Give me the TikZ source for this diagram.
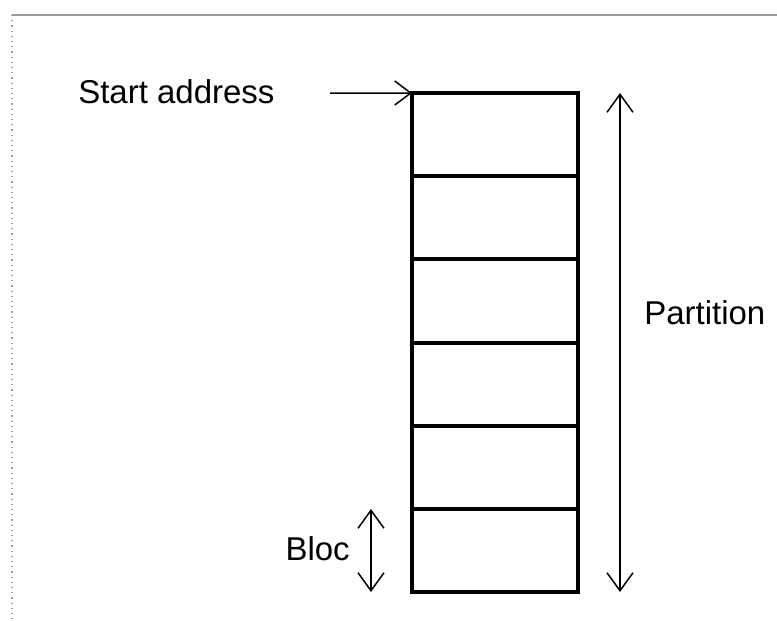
\documentclass[tikz,border=0pt]{standalone}
\usepackage{fontspec}
\setmainfont{Liberation Sans}
\usetikzlibrary{arrows.meta}

\tikzset{every picture/.style={line width=0.75pt}}
\tikzset{
  cell/.style={draw, line width=2pt, minimum width=83pt, minimum height=41.58pt, inner sep=0pt, outer sep=0pt},
  label/.style={inner sep=0.75pt, font=\fontsize{16.5}{19}\selectfont},
  dim/.style={{Straight Barb[length=9pt,width=13pt]}-{Straight Barb[length=9pt,width=13pt]}},
  feed/.style={-{Straight Barb[length=8pt,width=12pt]}},
  frame/.style={draw=black!40, line width=0.6pt}
}

\begin{document}
\begin{tikzpicture}[x=0.5pt,y=0.5pt,yscale=-1,xscale=1]
\path[use as bounding box] (0,0) rectangle (777,621);

%Frame
\draw [frame] (12,15) -- (777,15) ;
\draw [frame, dotted] (12,15) -- (12,621) ;

%Shape: Blocks of the partition
\foreach \i in {1,...,6}
  \node [cell] (b\i) at (495,{93+83.17*(\i-0.5)}) {};

%Coordinates for the arrow ends
\coordinate (sa) at (330,93) ;
\coordinate (ptop) at (620,93) ;
\coordinate (pbot) at (620,592) ;
\coordinate (btop) at (371,509) ;
\coordinate (bbot) at (371,592) ;

%Straight Lines
\draw [feed] (sa) -- (b1.north west) ;
%Straight Lines
\draw [dim] (ptop) -- (pbot) ;
%Straight Lines
\draw [dim] (btop) -- (bbot) ;

% Text Node
\node [label, anchor=west] (saddr) at (76,92) {Start address};
% Text Node
\node [label, anchor=west] (part) at (642,313) {Partition};
% Text Node
\node [label, anchor=east] (bloc) at (352,549) {Bloc};

\end{tikzpicture}
\end{document}
